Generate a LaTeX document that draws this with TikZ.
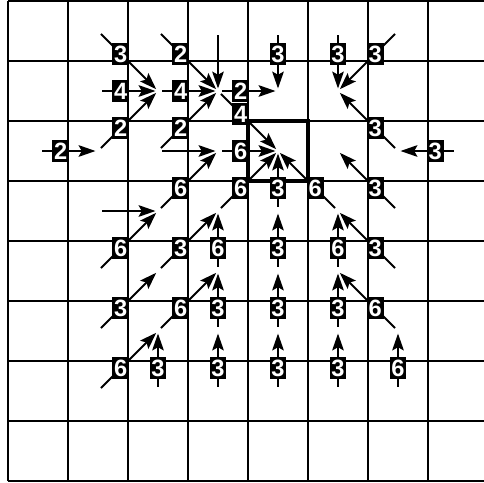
\documentclass[tikz,border=0pt]{standalone}
\usepackage{fontspec}
\newfontfamily\numfont{Liberation Sans}
\usetikzlibrary{arrows.meta}
\tikzset{
  gridline/.style={line width=.7pt},
  goal/.style={line width=1.6pt},
  flow/.style={line width=.95pt, -{Stealth[length=8pt,width=5.5pt,inset=1.5pt]}, shorten <=2pt, shorten >=1.2pt},
  num/.style={fill=black, text=white, font=\numfont\bfseries\fontsize{11.2}{12}\selectfont,
    inner xsep=.9pt, inner ysep=1.2pt, text height=8pt, text depth=0pt, pos=.38},
}
\begin{document}
\begin{tikzpicture}
	\useasboundingbox (-0.1333,0.0167) rectangle (7.9167,-8.0333);
	\draw[gridline] (0,0) grid (8,-8);
	\draw[goal] (4,-2) rectangle (5,-3);
	% cell centres, p-column-row
	\foreach \i in {0,...,7}
		\foreach \j in {0,...,7}
			\coordinate (p-\i-\j) at (\i+.5,-\j-.5);
	% moves without a count
	\foreach \a/\b in {3-0/3-1, 2-2/3-2, 1-3/2-3}
		\draw[flow] (p-\a) -- (p-\b);
	% moves with their counts
	\foreach \a/\b/\n in {1-0/2-1/3, 2-0/3-1/2, 4-0/4-1/3, 5-0/5-1/3, 6-0/5-1/3,
			1-1/2-1/4, 2-1/3-1/4, 3-1/4-1/2, 3-1/4-2/4, 6-2/5-1/3,
			0-2/1-2/2, 1-2/2-1/2, 2-2/3-1/2, 3-2/4-2/6, 7-2/6-2/3, 6-3/5-2/3,
			2-3/3-2/6, 3-3/4-2/6, 4-3/4-2/3, 5-3/4-2/6, 6-4/5-3/3,
			1-4/2-3/6, 2-4/3-3/3, 3-4/3-3/6, 4-4/4-3/3, 5-4/5-3/6,
			1-5/2-4/3, 2-5/3-4/6, 3-5/3-4/3, 4-5/4-4/3, 5-5/5-4/3, 6-5/5-4/6,
			1-6/2-5/6, 2-6/2-5/3, 3-6/3-5/3, 4-6/4-5/3, 5-6/5-5/3, 6-6/6-5/6}
		\draw[flow] (p-\a) -- node[num] (n-\a-\b) {\n} (p-\b);
\end{tikzpicture}
\end{document}
